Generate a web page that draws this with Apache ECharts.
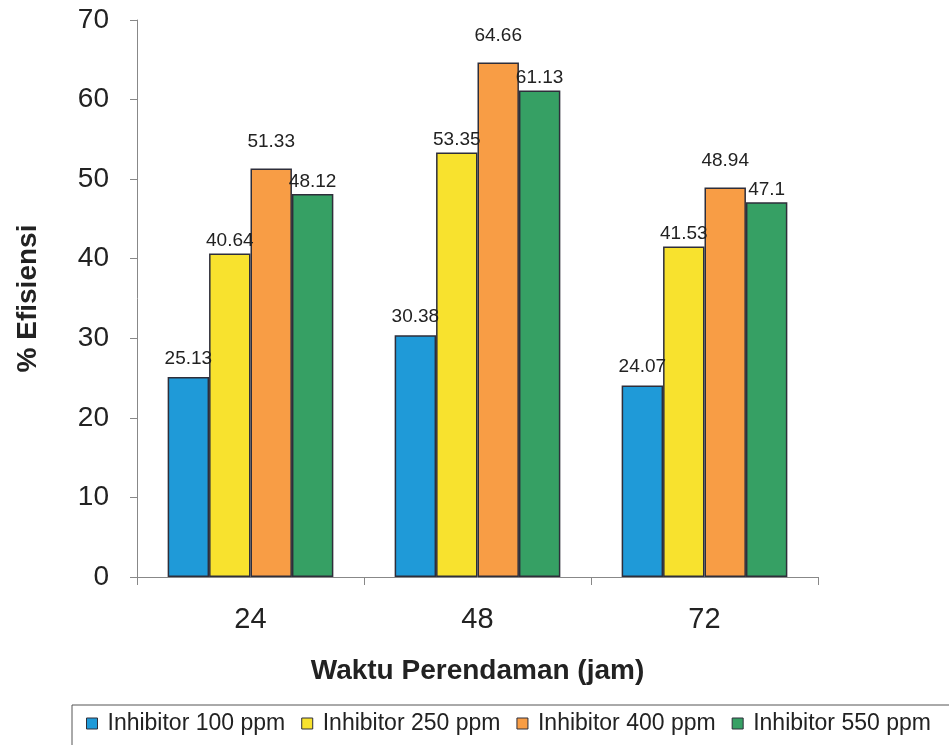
<!DOCTYPE html>
<html>
<head>
<meta charset="utf-8">
<script src="https://cdn.jsdelivr.net/npm/echarts@6/dist/echarts.min.js"></script>
<style>
  html, body { margin: 0; padding: 0; background: #fff; }
  #chart { width: 949px; height: 745px; }
</style>
</head>
<body>
<div id="chart"></div>
<script>
const categories = ['24', '48', '72'];
const seriesNames = ['Inhibitor 100 ppm', 'Inhibitor 250 ppm', 'Inhibitor 400 ppm', 'Inhibitor 550 ppm'];
const inh100 = [25.13, 30.38, 24.07];
const inh250 = [40.64, 53.35, 41.53];
const inh400 = [51.33, 64.66, 48.94];
const inh550 = [48.12, 61.13, 47.1];
const yTicks = [0, 10, 20, 30, 40, 50, 60, 70];

const colors = ['#1f9ad8', '#f8e22e', '#f89d45', '#36a064'];
const labelDist = [9, 3, 17, 3];

const chart = echarts.init(document.getElementById('chart'));

const makeSeries = (name, data, i) => ({
  name: name,
  type: 'bar',
  data: data,
  barGap: 0,
  barCategoryGap: '27%',
  itemStyle: { color: colors[i], borderColor: '#2e2e3a', borderWidth: 1.5 },
  label: {
    show: true,
    position: 'top',
    distance: labelDist[i],
    color: '#222',
    fontSize: 19,
    fontFamily: 'Liberation Sans, Arial, sans-serif'
  }
});

chart.setOption({
  backgroundColor: '#fff',
  animation: false,
  textStyle: { fontFamily: 'Liberation Sans, Arial, sans-serif' },
  grid: { left: 137, right: 131, top: 20, bottom: 168 },
  legend: {
    top: 705,
    left: 72,
    width: 1000,
    itemWidth: 11,
    itemHeight: 11,
    itemGap: 16,
    icon: 'rect',
    borderColor: '#555',
    borderWidth: 1,
    padding: [7, 40, 20, 14],
    textStyle: { fontSize: 23, color: '#222', padding: [0, 0, 0, 5] },
    itemStyle: { borderColor: '#2e2e3a', borderWidth: 1 },
    data: seriesNames
  },
  xAxis: {
    type: 'category',
    data: categories,
    name: 'Waktu Perendaman (jam)',
    nameLocation: 'middle',
    nameGap: 80,
    nameTextStyle: { fontSize: 28, fontWeight: 'bold', color: '#222' },
    axisLine: { lineStyle: { color: '#888', width: 1 } },
    axisTick: { show: true, alignWithLabel: false, length: 8, lineStyle: { color: '#888' } },
    axisLabel: { fontSize: 29, color: '#222', margin: 28 }
  },
  yAxis: {
    type: 'value',
    min: yTicks[0],
    max: yTicks[yTicks.length - 1],
    interval: 10,
    name: '% Efisiensi',
    nameLocation: 'middle',
    nameGap: 95,
    nameTextStyle: { fontSize: 28, fontWeight: 'bold', color: '#222' },
    axisLine: { show: true, lineStyle: { color: '#888', width: 1 } },
    axisTick: { show: true, length: 7, lineStyle: { color: '#888' } },
    axisLabel: { fontSize: 28, color: '#222', margin: 28 },
    splitLine: { show: false }
  },
  series: [
    makeSeries(seriesNames[0], inh100, 0),
    makeSeries(seriesNames[1], inh250, 1),
    makeSeries(seriesNames[2], inh400, 2),
    makeSeries(seriesNames[3], inh550, 3)
  ]
});
</script>
</body>
</html>
